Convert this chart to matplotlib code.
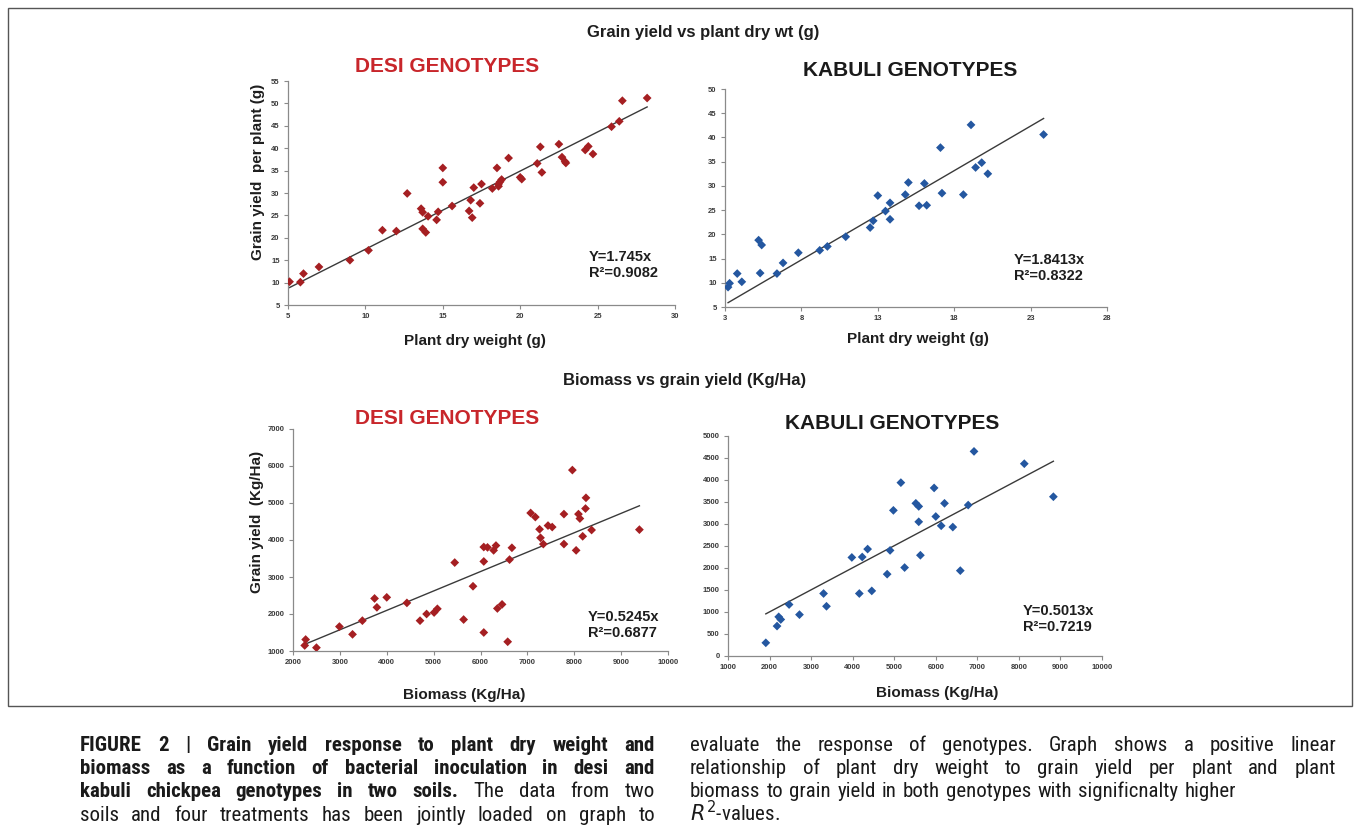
import matplotlib
matplotlib.use('Agg')
import matplotlib.pyplot as plt
import matplotlib.patches as mpatches
from matplotlib import font_manager
import numpy as np

# ── Data ─────────────────────────────────────────────────────────────────
desi_dw_x = [5.1, 5.8, 6.0, 7.0, 9.0, 10.2, 11.1, 12.0, 12.7, 13.6, 13.7, 13.7, 13.9, 14.05, 14.6,
             14.7, 15.0, 15.0, 15.6, 16.7, 16.8, 16.9, 17.0, 17.4, 17.5, 18.2, 18.5, 18.6, 18.6, 18.7,
             18.8, 19.25, 20.0, 20.1, 21.1, 21.3, 21.4, 22.5, 22.7, 22.9, 22.95, 24.2, 24.4, 24.7, 25.9,
             26.4, 26.6, 28.2]
desi_dw_y = [10.2, 10.1, 12.0, 13.5, 15.0, 17.2, 21.7, 21.5, 29.9, 26.5, 25.7, 22.0, 21.2, 24.8, 24.0,
             25.8, 35.6, 32.4, 27.1, 26.0, 28.4, 24.5, 31.2, 27.7, 32.0, 31.0, 35.6, 31.5, 32.0, 32.5,
             33.0, 37.8, 33.5, 33.1, 36.6, 40.3, 34.6, 40.9, 38.0, 37.0, 36.7, 39.6, 40.4, 38.7, 44.8,
             46.0, 50.6, 51.2]

kabuli_dw_x = [3.2, 3.3, 3.8, 4.1, 5.2, 5.4, 5.3, 6.4, 6.8, 7.8, 9.2, 9.7, 10.9, 12.5, 12.7, 13.0,
               13.5, 13.8, 13.8, 14.8, 15.0, 15.7, 16.05, 16.2, 17.1, 17.2, 18.6, 19.1, 19.4, 19.8,
               20.2, 23.85]
kabuli_dw_y = [9.1, 9.9, 11.9, 10.2, 18.8, 17.8, 12.0, 11.9, 14.1, 16.2, 16.7, 17.5, 19.5, 21.4, 22.8,
               28.0, 24.8, 23.1, 26.5, 28.2, 30.7, 25.9, 30.5, 26.0, 37.9, 28.5, 28.2, 42.6, 33.8, 34.8,
               32.5, 40.6]

desi_bm_x = [2250, 2270, 2500, 2990, 3270, 3480, 3740, 3790, 4000, 4430, 4710, 4850, 5010, 5080, 5450,
             5640, 5840, 6070, 6070, 6150, 6070, 6280, 6330, 6360, 6460, 6580, 6620, 6670, 7070, 7170,
             7260, 7280, 7340, 7440, 7530, 7780, 7780, 7960, 8040, 8090, 8120, 8180, 8240, 8250, 8370,
             9390]
desi_bm_y = [1150, 1310, 1090, 1660, 1450, 1820, 2420, 2180, 2450, 2300, 1820, 2000, 2040, 2140, 3390,
             1850, 2750, 3420, 3810, 3800, 1500, 3720, 3850, 2150, 2260, 1250, 3470, 3790, 4730, 4620,
             4290, 4060, 3890, 4390, 4350, 4700, 3890, 5890, 3720, 4700, 4580, 4100, 4850, 5140, 4270,
             4280]

kabuli_bm_x = [1910, 2180, 2220, 2270, 2470, 2720, 3300, 3370, 3980, 4160, 4230, 4360, 4460, 4830, 4900,
               4980, 5160, 5250, 5520, 5590, 5590, 5630, 5960, 6000, 6130, 6210, 6410, 6590, 6780, 6920,
               8130, 8830]
kabuli_bm_y = [300, 680, 890, 830, 1170, 940, 1420, 1130, 2240, 1420, 2250, 2430, 1480, 1860, 2400,
               3310, 3940, 2010, 3470, 3400, 3050, 2290, 3820, 3170, 2960, 3470, 2930, 1940, 3430, 4650,
               4370, 3620]

slopes = [1.745, 1.8413, 0.5245, 0.5013]
r2_vals = ['0.9082', '0.8322', '0.6877', '0.7219']

# ── Figure setup (pixel helpers) ─────────────────────────────────────────
W, H = 1357, 839
plt.rcParams['font.family'] = ['Liberation Sans', 'DejaVu Sans']
fig = plt.figure(figsize=(W / 100, H / 100), dpi=100)
fig.patch.set_facecolor('white')

RED = '#a51f22'
BLUE = '#2457a0'
TITLE_RED = '#c8262b'


def px_axes(l, t, r, b):
    return fig.add_axes([l / W, 1 - b / H, (r - l) / W, (b - t) / H])


def ftext(x, y, s, **kw):
    return fig.text(x / W, 1 - y / H, s, **kw)


def panel(box, xs, ys, color, slope, r2, xlim, ylim, xticks, yticks, eq_pos):
    ax = px_axes(*box)
    ax.scatter(xs, ys, marker='D', s=20, color=color, edgecolors='none', zorder=3)
    xl = np.array([min(xs), max(xs)])
    ax.plot(xl, slope * xl, color='#3a3a3a', linewidth=1.0, zorder=2)
    ax.set_xlim(*xlim)
    ax.set_ylim(*ylim)
    ax.set_xticks(xticks)
    ax.set_yticks(yticks)
    for sp in ['top', 'right']:
        ax.spines[sp].set_visible(False)
    for sp in ['left', 'bottom']:
        ax.spines[sp].set_color('#8a8a8a')
        ax.spines[sp].set_linewidth(0.9)
    ax.tick_params(direction='out', length=3, width=0.8, color='#8a8a8a',
                   labelsize=5.5, labelcolor='#3a3a3a', pad=3)
    for lab in ax.get_xticklabels() + ax.get_yticklabels():
        lab.set_fontweight('bold')
    ax.patch.set_alpha(0)
    ftext(eq_pos[0], eq_pos[1], f'Y={slope}x\nR\u00b2={r2}', fontsize=10.5,
          fontweight='bold', color='#1e1e1e', ha='left', va='top', linespacing=1.15)
    return ax


# ── Row 1: grain yield vs plant dry weight ──────────────────────────────
ftext(703, 33, 'Grain yield vs plant dry wt (g)', fontsize=12, fontweight='bold',
      ha='center', va='center', color='#1e1e1e')

panel((288, 81, 675, 305), desi_dw_x, desi_dw_y, RED, slopes[0], r2_vals[0],
      (5, 30), (5, 55), range(5, 31, 5), range(5, 56, 5), (589, 250))
ftext(447, 67, 'DESI GENOTYPES', fontsize=15, fontweight='bold', color=TITLE_RED,
      ha='center', va='center')
ftext(258, 172, 'Grain yield  per plant (g)', fontsize=11, fontweight='bold', rotation=90,
      ha='center', va='center', color='#1e1e1e')
ftext(475, 341, 'Plant dry weight (g)', fontsize=11, fontweight='bold',
      ha='center', va='center', color='#1e1e1e')

panel((725, 89, 1107, 307), kabuli_dw_x, kabuli_dw_y, BLUE, slopes[1], r2_vals[1],
      (3, 28), (5, 50), range(3, 29, 5), range(5, 51, 5), (1014, 253))
ftext(910, 71, 'KABULI GENOTYPES', fontsize=15, fontweight='bold', color='#1a1a1a',
      ha='center', va='center')
ftext(918, 339, 'Plant dry weight (g)', fontsize=11, fontweight='bold',
      ha='center', va='center', color='#1e1e1e')

# ── Row 2: biomass vs grain yield ───────────────────────────────────────
ftext(685, 380, 'Biomass vs grain yield (Kg/Ha)', fontsize=12, fontweight='bold',
      ha='center', va='center', color='#1e1e1e')

panel((293, 429, 668, 651), desi_bm_x, desi_bm_y, RED, slopes[2], r2_vals[2],
      (2000, 10000), (1000, 7000), range(2000, 10001, 1000), range(1000, 7001, 1000), (588, 610))
ftext(447, 418, 'DESI GENOTYPES', fontsize=15, fontweight='bold', color=TITLE_RED,
      ha='center', va='center')
ftext(257, 522, 'Grain yield  (Kg/Ha)', fontsize=11, fontweight='bold', rotation=90,
      ha='center', va='center', color='#1e1e1e')
ftext(464, 695, 'Biomass (Kg/Ha)', fontsize=11, fontweight='bold',
      ha='center', va='center', color='#1e1e1e')

panel((728, 436, 1102, 656), kabuli_bm_x, kabuli_bm_y, BLUE, slopes[3], r2_vals[3],
      (1000, 10000), (0, 5000), range(1000, 10001, 1000), range(0, 5001, 500), (1023, 604))
ftext(892, 423, 'KABULI GENOTYPES', fontsize=15, fontweight='bold', color='#1a1a1a',
      ha='center', va='center')
ftext(937, 693, 'Biomass (Kg/Ha)', fontsize=11, fontweight='bold',
      ha='center', va='center', color='#1e1e1e')

# frame around the figure
fig.add_artist(mpatches.Rectangle((8 / W, 1 - 706 / H), (1352 - 8) / W, (706 - 8) / H,
                                  transform=fig.transFigure, fill=False,
                                  edgecolor='#555555', linewidth=1.0))

# ── Caption (justified lines) ───────────────────────────────────────────
# pick a condensed face if one is installed
installed = {f.name for f in font_manager.fontManager.ttflist}
CAP_FONT = [n for n in ['Liberation Sans Narrow', 'Roboto Condensed', 'DejaVu Sans Condensed',
                        'Open Sans Condensed', 'Liberation Sans'] if n in installed]
CAP_SIZE = 15 if CAP_FONT[0] != 'Liberation Sans' else 11
renderer = fig.canvas.get_renderer()


def cap_line(y, x0, x1, segments, justify=True):
    words = []
    for txt, bold in segments:
        for w in txt.split():
            words.append((w, bold))
    arts = []
    for w, bold in words:
        t = ftext(0, y, w, fontsize=CAP_SIZE, family=CAP_FONT,
                  fontweight='bold' if bold else 'normal', color='#1a1a1a',
                  ha='left', va='baseline')
        arts.append(t)
    widths = [a.get_window_extent(renderer).width for a in arts]
    sp = ftext(0, 0, 'a b', fontsize=CAP_SIZE, family=CAP_FONT)
    sp2 = ftext(0, 0, 'ab', fontsize=CAP_SIZE, family=CAP_FONT)
    natural = sp.get_window_extent(renderer).width - sp2.get_window_extent(renderer).width
    sp.remove()
    sp2.remove()
    if justify and len(arts) > 1:
        gap = ((x1 - x0) - sum(widths)) / (len(arts) - 1)
    else:
        gap = natural * 1.3
    x = x0
    for a, w in zip(arts, widths):
        a.set_x(x / W)
        x += w + gap


cap_line(751, 80, 655, [('FIGURE 2 | Grain yield response to plant dry weight and', True)])
cap_line(774, 80, 655, [('biomass as a function of bacterial inoculation in desi and', True)])
cap_line(797, 80, 655, [('kabuli chickpea genotypes in two soils.', True), ('The data from two', False)])
cap_line(821, 80, 655, [('soils and four treatments has been jointly loaded on graph to', False)])

cap_line(751, 690, 1336, [('evaluate the response of genotypes. Graph shows a positive linear', False)])
cap_line(774, 690, 1336, [('relationship of plant dry weight to grain yield per plant and plant', False)])
cap_line(797, 690, 1336, [('biomass to grain yield in both genotypes with significnalty higher', False)],
         justify=False)
ftext(690, 821, r'$R^2$-values.', fontsize=CAP_SIZE, family=CAP_FONT, color='#1a1a1a',
      ha='left', va='baseline')

fig.savefig('out.png', dpi=100)
